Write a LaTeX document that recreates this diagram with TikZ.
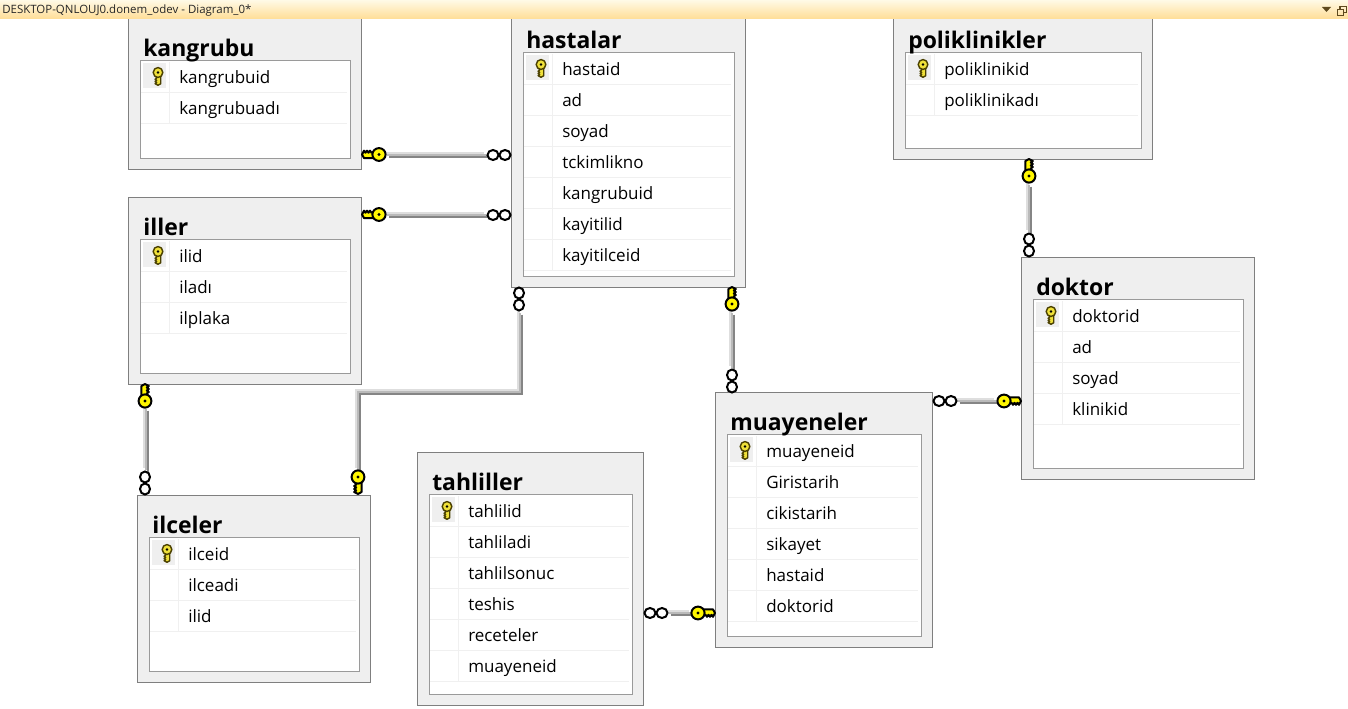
\documentclass[tikz,border=0pt]{standalone}
\usepackage{fontspec}
\setmainfont{Open Sans}
\usetikzlibrary{calc}
\definecolor{panel}{HTML}{EFEFEF}
\definecolor{panelline}{HTML}{7F7F7F}
\definecolor{innerline}{HTML}{9A9A9A}
\definecolor{rowline}{HTML}{F0F0F0}
\definecolor{keyyellow}{HTML}{FFF600}
\definecolor{rowkey}{HTML}{EFE03A}
\definecolor{rowkeyline}{HTML}{4A4000}
\definecolor{barTop}{HTML}{FFFAE6}
\definecolor{barBot}{HTML}{FFDD96}
\definecolor{barIcon}{HTML}{5F4A1E}
\newcommand{\px}{0.75pt}
\tikzset{
  x=0.75pt,y=-0.75pt,
  outerbox/.style={draw=panelline,fill=panel,line width=\px,rectangle,inner sep=0pt,outer sep=0pt,anchor=north west},
  innerbox/.style={draw=innerline,fill=white,line width=\px},
  rowrule/.style={draw=rowline,line width=\px},
  titletext/.style={anchor=base west,inner sep=0pt,font=\fontsize{17.2pt}{20pt}\bfseries,text=black},
  fieldtext/.style={anchor=base west,inner sep=0pt,font=\fontsize{12.75pt}{15pt}\selectfont,text=black},
  connbase/.style={draw=black!27,line width=2.2*\px},
  connlight/.style={draw=black!13,line width=2.4*\px,transform canvas={shift={(-1.7*\px,1.7*\px)}}},
  conndark/.style={draw=black!48,line width=2.4*\px,transform canvas={shift={(1.7*\px,-1.7*\px)}}},
  keyshape/.pic={
    \draw[pic actions,line join=round]
      (3,-3.6) -- (15,-3.6) -- (17,0) -- (15,3.8) -- (13.5,1.8) -- (12,3.8) -- (10.5,1.8) -- (9,3.8) -- (7.5,1.8) -- (3,3.8) -- cycle;
    \draw[pic actions] (0,0) ellipse[x radius=6.6,y radius=6.4];
    \path[pic actions,fill=black,draw=none] (0,0) circle[radius=1.7];
  },
  keyicon/.style={fill=keyyellow,draw=black,line width=2*\px},
  rowkeyicon/.style={fill=rowkey,draw=rowkeyline,line width=1.4*\px},
  ringpair/.pic={
    \draw[fill=white,draw=black,line width=2*\px] (6,0) ellipse[x radius=5.5,y radius=5];
    \draw[fill=white,draw=black,line width=2*\px] (18,0) ellipse[x radius=5.5,y radius=5];
  },
}
\newcommand{\enttable}[7]{%
  \node[outerbox,minimum width={(#4-#2)*\px},minimum height={(#5-#3)*\px}] (#1) at ({#2+.5},{#3+.5}) {};
  \path[innerbox] ({#2+12.5},{#3+42.5}) rectangle ({#4-10.5},{#5-10.5});
  \node[titletext] (#1title) at ({#2+15},{#3+38.4}) {#6};
  \foreach \fname [count=\i] in {#7} {
    \pgfmathsetmacro{\rowy}{#3+42+17+31*(\i-1)}
    \pgfmathsetmacro{\ruley}{#3+42+32.5+31*(\i-1)}
    \draw[rowrule] ({#2+13},\ruley) -- ({#4-14},\ruley);
    \draw[rowrule] ({#2+41.5},\rowy-15) -- ({#2+41.5},\rowy+15);
    \node[fieldtext] (#1f\i) at ({#2+51},{\rowy+6.4}) {\fname};
  }
  \fill[panel] ({#2+15},{#3+45}) rectangle ({#2+38},{#3+70});
  \pic[rowkeyicon,scale=0.75,rotate=-90] at ({#2+30},{#3+54.5}) {keyshape};
}
% three-tone connector
\newcommand{\connector}[1]{%
  \draw[connlight] #1;
  \draw[conndark] #1;
  \draw[connbase] #1;
}
\begin{document}
\begin{tikzpicture}
\useasboundingbox (0,0) rectangle (1348,709);
\fill[white] (0,0) rectangle (1348,709);

\enttable{kangrubu}{128}{18}{361}{169}{kangrubu}{kangrubuid,kangrubuadı}
\enttable{hastalar}{511}{10}{745}{287}{hastalar}{hastaid,ad,soyad,tckimlikno,kangrubuid,kayitilid,kayitilceid}
\enttable{poliklinikler}{893}{10}{1152}{159}{poliklinikler}{poliklinikid,poliklinikadı}
\enttable{iller}{128}{197}{361}{384}{iller}{ilid,iladı,ilplaka}
\enttable{ilceler}{137}{495}{370}{682}{ilceler}{ilceid,ilceadi,ilid}
\enttable{tahliller}{417}{452}{643}{705}{tahliller}{tahlilid,tahliladi,tahlilsonuc,teshis,receteler,muayeneid}
\enttable{muayeneler}{715}{392}{932}{647}{muayeneler}{muayeneid,Giristarih,cikistarih,sikayet,hastaid,doktorid}
\enttable{doktor}{1021}{257}{1254}{479}{doktor}{doktorid,ad,soyad,klinikid}

% connector end points
\coordinate (a1) at (387,155); \coordinate (b1) at (486,155);
\coordinate (a2) at (387,215); \coordinate (b2) at (486,215);
\coordinate (a3) at (520,313); \coordinate (b3) at (358,470);
\coordinate (a4) at (732,313); \coordinate (b4) at (732,368);
\coordinate (a5) at (1029,185); \coordinate (b5) at (1029,232);
\coordinate (a6) at (146,409); \coordinate (b6) at (146,470);
\coordinate (a7) at (958,401); \coordinate (b7) at (996,401);
\coordinate (a8) at (669,613); \coordinate (b8) at (691,613);

\connector{(a1) -- (b1)}
\connector{(a2) -- (b2)}
\connector{(a3) -- (520,392) -- (358,392) -- (b3)}
\connector{(a4) -- (b4)}
\connector{(a5) -- (b5)}
\connector{(a6) -- (b6)}
\connector{(a7) -- (b7)}
\connector{(a8) -- (b8)}

% keys: bulb centre, teeth towards the table
\pic[keyicon,rotate=180] at (379,154.5) {keyshape};
\pic[keyicon,rotate=180] at (379,214.5) {keyshape};
\pic[keyicon,rotate=-90] at (358,477) {keyshape};
\pic[keyicon,rotate=90] at (732,304) {keyshape};
\pic[keyicon,rotate=90] at (1029,176) {keyshape};
\pic[keyicon,rotate=90] at (145,401) {keyshape};
\pic[keyicon] at (1004,401) {keyshape};
\pic[keyicon] at (698,613) {keyshape};

% rings
\pic at (487,155) {ringpair};
\pic at (487,215) {ringpair};
\pic[rotate=-90] at (519,287) {ringpair};
\pic[rotate=-90] at (732,369) {ringpair};
\pic[rotate=-90] at (1029,233) {ringpair};
\pic[rotate=-90] at (145,471) {ringpair};
\pic at (933,401) {ringpair};
\pic at (644,613) {ringpair};

% title bar
\shade[top color=barTop,bottom color=barBot] (0,0) rectangle (1348,19);
\node[anchor=base west,inner sep=0pt,font=\fontsize{8.6pt}{9pt}\selectfont,text=black!85] (bartext) at (2,14) {DESKTOP-QNLOUJ0.donem\_odev - Diagram\_0*};
\fill[barIcon] (1322,7) -- (1331,7) -- (1326.5,12) -- cycle;
\draw[barIcon,line width=1.1*\px] (1337.5,9.5) rectangle (1343.5,15.5);
\draw[barIcon,line width=1.1*\px] (1340,9.5) -- (1340,6.5) -- (1346.5,6.5) -- (1346.5,12.5) -- (1343.5,12.5);
\end{tikzpicture}
\end{document}
